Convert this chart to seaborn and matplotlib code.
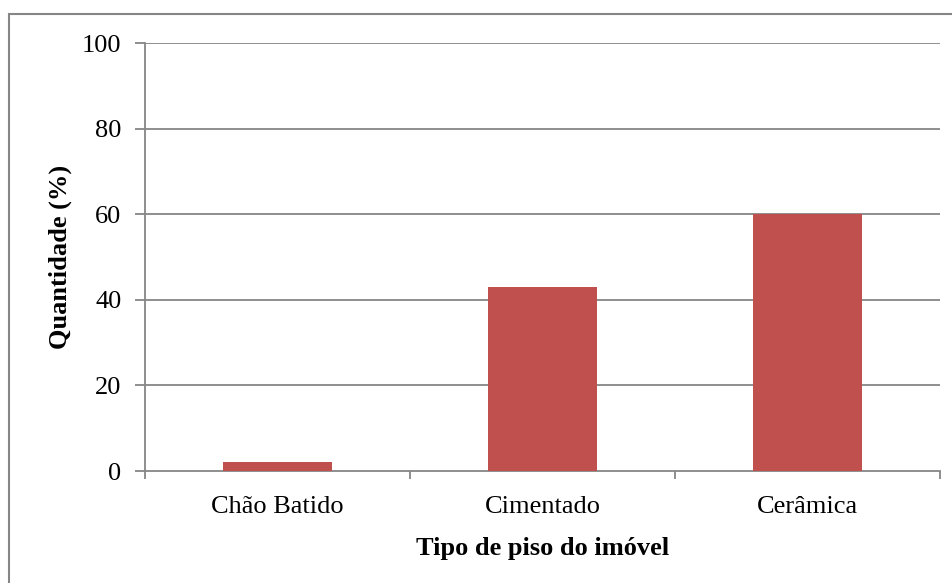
import matplotlib
matplotlib.use("Agg")
import matplotlib.pyplot as plt
from matplotlib.patches import Rectangle
import seaborn as sns
import pandas as pd

categorias = ["Chão Batido", "Cimentado", "Cerâmica"]
quantidade = [2, 43, 60]
y_ticks = [0, 20, 40, 60, 80, 100]

sns.set_theme(style="white")
plt.rcParams["font.family"] = ["Liberation Serif", "DejaVu Serif"]
plt.rcParams["text.color"] = "black"
plt.rcParams["axes.labelcolor"] = "black"

W, H = 953, 583
fig = plt.figure(figsize=(W / 100, H / 100), dpi=100)
ax = fig.add_axes([145 / W, 1 - 471 / H, 795 / W, 428 / H])

bar_color = "#C0504D"
df = pd.DataFrame({"categoria": categorias, "quantidade": quantidade})
sns.barplot(data=df, x="categoria", y="quantidade", color=bar_color,
            saturation=1, width=0.41, ax=ax, zorder=3,
            edgecolor=bar_color, linewidth=0)

grid_color = "#868686"
ax.set_ylim(0, 100)
ax.set_yticks(y_ticks)
ax.set_xlim(-0.5, len(categorias) - 0.5)
for y in y_ticks[1:]:
    ax.axhline(y, color=grid_color, lw=1.3, zorder=1)

for side in ("top", "right"):
    ax.spines[side].set_visible(False)
for side in ("left", "bottom"):
    ax.spines[side].set_color(grid_color)
    ax.spines[side].set_linewidth(1.3)

# category separators as ticks on the x axis
ax.set_xticks([-0.5, 0.5, 1.5, 2.5], minor=True)
ax.tick_params(axis="x", which="minor", length=6, width=1.3, color=grid_color,
               direction="out", bottom=True)
ax.tick_params(axis="x", which="major", length=0, labelsize=19, pad=18,
               labelcolor="black")
ax.tick_params(axis="y", length=7, width=1.3, color=grid_color,
               direction="out", left=True, labelsize=19, pad=10,
               labelcolor="black")

ax.set_xlabel("Tipo de piso do imóvel", fontsize=19, fontweight="bold",
              labelpad=14, color="black")
ax.set_ylabel("Quantidade (%)", fontsize=19, fontweight="bold", labelpad=7,
              color="black")

# outer chart border
fig.patches.append(Rectangle((9.5 / W, -0.1), 1.2, 1 - 14 / H + 0.1,
                             transform=fig.transFigure, fill=False,
                             edgecolor=grid_color, lw=1.5))

fig.savefig("out.png", dpi=100)
